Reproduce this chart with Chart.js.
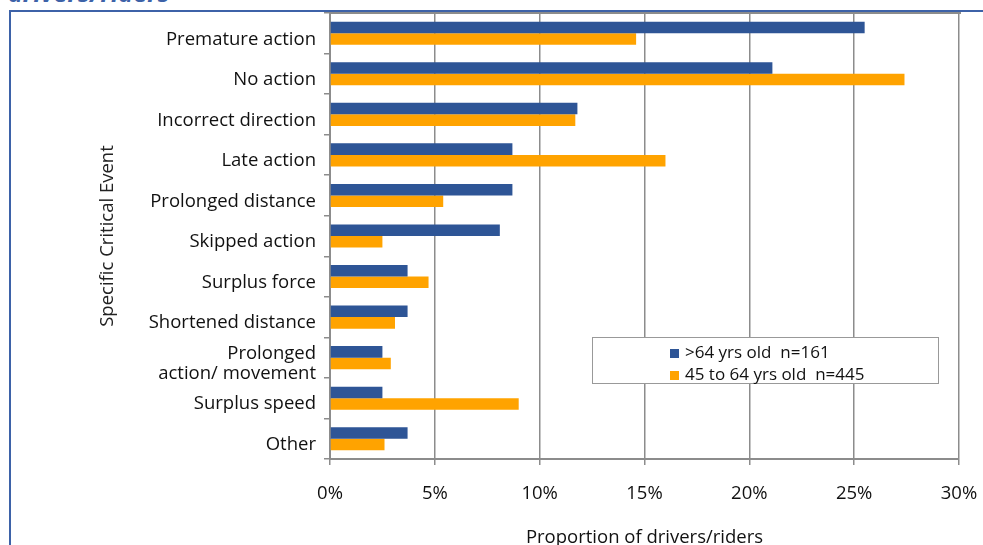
<!DOCTYPE html>
<html>
<head>
<meta charset="utf-8">
<title>Specific Critical Event by age group</title>
<script src="https://cdn.jsdelivr.net/npm/chart.js@4"></script>
<style>
  html, body { margin: 0; padding: 0; background: #fff; overflow: hidden; }
  body { width: 983px; height: 545px; position: relative; font-family: "Open Sans", sans-serif; }
  .frame { position: absolute; left: 9px; top: 10px; width: 1000px; height: 600px;
           border-left: 2px solid #3d62a8; border-top: 2px solid #3d62a8; }
  .heading { position: absolute; left: 8px; top: -25px; font: italic bold 25px "Open Sans", sans-serif;
             color: #3d62a8; white-space: nowrap; }
  #chart { position: absolute; left: 0; top: 0; }
  .legend { position: absolute; left: 592px; top: 337px; width: 345px; height: 45px;
            border: 1px solid #999; background: #fff; font: 17px "Open Sans", sans-serif; color: #111; }
  .legend div { position: absolute; left: 77px; white-space: pre; line-height: 22px; }
  .legend span { display: inline-block; width: 9px; height: 9px; margin-right: 6px; }
</style>
</head>
<body>
<div class="heading">drivers/riders</div>
<div class="frame"></div>
<canvas id="chart" width="983" height="545"></canvas>
<div class="legend" id="legend"></div>
<script>
// Categories, top to bottom
const events = [
  'Premature action',
  'No action',
  'Incorrect direction',
  'Late action',
  'Prolonged distance',
  'Skipped action',
  'Surplus force',
  'Shortened distance',
  ['Prolonged', 'action/ movement'],
  'Surplus speed',
  'Other'
];

// Proportion of drivers/riders (%)
const olderDrivers = [25.5, 21.1, 11.8, 8.7, 8.7, 8.1, 3.7, 3.7, 2.5, 2.5, 3.7];
const middleDrivers = [14.6, 27.4, 11.7, 16.0, 5.4, 2.5, 4.7, 3.1, 2.9, 9.0, 2.6];

const seriesNames = ['>64 yrs old  n=161', '45 to 64 yrs old  n=445'];
const seriesColors = ['#2e5596', '#ffa300'];

const xTicks = [0, 5, 10, 15, 20, 25, 30];

const axisGrey = '#8c8c8c';
const font = { family: '"Open Sans", sans-serif', size: 18.5, lineHeight: 1.1 };

// thin grey line along the top of the plot area
const topBorder = {
  id: 'topBorder',
  afterDraw(chart) {
    const { ctx, chartArea } = chart;
    ctx.save();
    ctx.strokeStyle = axisGrey;
    ctx.lineWidth = 2;
    ctx.beginPath();
    ctx.moveTo(chartArea.left, chartArea.top);
    ctx.lineTo(chartArea.right + 2, chartArea.top);
    ctx.stroke();
    ctx.restore();
  }
};

const chart = new Chart(document.getElementById('chart'), {
  type: 'bar',
  data: {
    labels: events,
    datasets: [
      { label: seriesNames[0], data: olderDrivers, backgroundColor: seriesColors[0] },
      { label: seriesNames[1], data: middleDrivers, backgroundColor: seriesColors[1] }
    ]
  },
  options: {
    indexAxis: 'y',
    responsive: false,
    animation: false,
    barPercentage: 1,
    categoryPercentage: 0.57,
    layout: { padding: { left: 98, top: 13, right: 24, bottom: 0 } },
    plugins: {
      legend: { display: false },
      tooltip: { enabled: false }
    },
    scales: {
      x: {
        min: xTicks[0],
        max: xTicks[xTicks.length - 1],
        afterBuildTicks(scale) {
          scale.ticks = xTicks.map(v => ({ value: v }));
        },
        afterFit(scale) {
          scale.height = 86;
          scale.paddingLeft = 0;
          scale.paddingRight = 0;
        },
        ticks: {
          color: '#111',
          font: font,
          padding: 19,
          maxRotation: 0,
          autoSkip: false,
          callback: v => v + '%'
        },
        grid: { color: axisGrey, lineWidth: 1.5, tickLength: 6 },
        border: { color: axisGrey, width: 2 },
        title: {
          display: true,
          text: 'Proportion of drivers/riders',
          color: '#111',
          font: font,
          padding: { top: 0, bottom: -3 }
        }
      },
      y: {
        afterFit(scale) {
          scale.width = 330 - 98;
          scale.paddingTop = 0;
          scale.paddingBottom = 0;
        },
        ticks: { color: '#111', font: font, padding: 8, autoSkip: false, labelOffset: 6 },
        grid: { drawOnChartArea: false, color: axisGrey, lineWidth: 1.5, tickLength: 6 },
        border: { color: axisGrey, width: 2 },
        title: {
          display: true,
          text: 'Specific Critical Event',
          color: '#222',
          font: font,
          padding: 0
        }
      }
    }
  },
  plugins: [topBorder]
});

// legend box drawn from the dataset names and colours
const legendBox = document.getElementById('legend');
chart.data.datasets.forEach((ds, i) => {
  const row = document.createElement('div');
  row.style.top = (3 + i * 22) + 'px';
  row.innerHTML = '<span style="background:' + ds.backgroundColor + '"></span>';
  row.appendChild(document.createTextNode(ds.label));
  legendBox.appendChild(row);
});
</script>
</body>
</html>
